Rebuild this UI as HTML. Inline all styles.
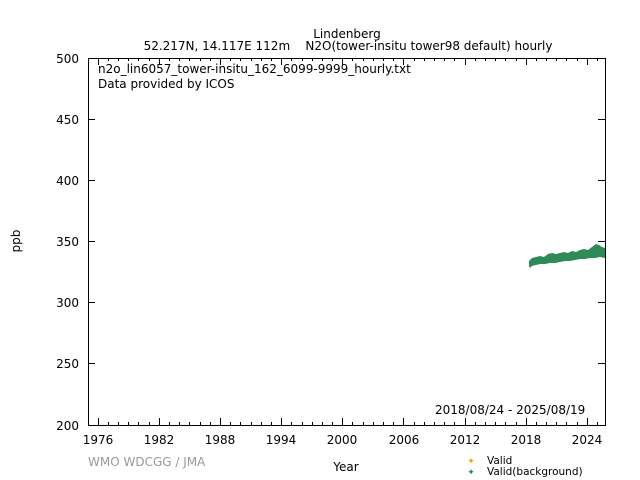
<!DOCTYPE html>
<html><head><meta charset="utf-8"><style>
html,body{margin:0;padding:0;background:#fff;}
svg{display:block;font-family:"DejaVu Sans","Liberation Sans",sans-serif;}
</style></head><body>
<svg width="640" height="480" viewBox="0 0 640 480" xmlns="http://www.w3.org/2000/svg">
<rect width="640" height="480" fill="#fff"/>
<path fill="none" stroke="#000" stroke-width="1" d="
M88 58.5h7M598 58.5h7M88 119.5h7M598 119.5h7M88 180.5h7M598 180.5h7M88 241.5h7M598 241.5h7M88 302.5h7M598 302.5h7M88 363.5h7M598 363.5h7
M98.5 425v-7M98.5 58v7M159.5 425v-7M159.5 58v7M220.5 425v-7M220.5 58v7M281.5 425v-7M281.5 58v7M342.5 425v-7M342.5 58v7M403.5 425v-7M403.5 58v7M465.5 425v-7M465.5 58v7M526.5 425v-7M526.5 58v7M587.5 425v-7M587.5 58v7
M108.5 425v-3M108.5 58v3M118.5 425v-3M118.5 58v3M128.5 425v-3M128.5 58v3M138.5 425v-3M138.5 58v3M149.5 425v-3M149.5 58v3
M169.5 425v-3M169.5 58v3M179.5 425v-3M179.5 58v3M189.5 425v-3M189.5 58v3M200.5 425v-3M200.5 58v3M210.5 425v-3M210.5 58v3
M230.5 425v-3M230.5 58v3M240.5 425v-3M240.5 58v3M251.5 425v-3M251.5 58v3M261.5 425v-3M261.5 58v3M271.5 425v-3M271.5 58v3
M291.5 425v-3M291.5 58v3M302.5 425v-3M302.5 58v3M312.5 425v-3M312.5 58v3M322.5 425v-3M322.5 58v3M332.5 425v-3M332.5 58v3
M352.5 425v-3M352.5 58v3M363.5 425v-3M363.5 58v3M373.5 425v-3M373.5 58v3M383.5 425v-3M383.5 58v3M393.5 425v-3M393.5 58v3
M414.5 425v-3M414.5 58v3M424.5 425v-3M424.5 58v3M434.5 425v-3M434.5 58v3M444.5 425v-3M444.5 58v3M454.5 425v-3M454.5 58v3
M475.5 425v-3M475.5 58v3M485.5 425v-3M485.5 58v3M495.5 425v-3M495.5 58v3M505.5 425v-3M505.5 58v3M516.5 425v-3M516.5 58v3
M536.5 425v-3M536.5 58v3M546.5 425v-3M546.5 58v3M556.5 425v-3M556.5 58v3M566.5 425v-3M566.5 58v3M577.5 425v-3M577.5 58v3M597.5 425v-3M597.5 58v3"/>
<rect x="88.5" y="58.5" width="517" height="367" fill="none" stroke="#000"/>
<polygon fill="#2e8b57" points="529,261 532,258 536,257 540,256 544,257 548,254 552,253 556,254 560,253 564,252 568,253 572,251 576,252 580,250 584,249 588,250 592,247 596,244 599,245 602,247 605,248 605,258 600,257 595,258 590,258 585,259 580,259 575,260 570,261 565,261 560,262 555,263 550,263 545,264 540,264 536,265 532,266 530,268 529,266"/>
<g font-size="12" fill="#000" text-anchor="end">
<text x="79" y="63">500</text><text x="79" y="124">450</text><text x="79" y="185">400</text><text x="79" y="246">350</text><text x="79" y="307">300</text><text x="79" y="368">250</text><text x="79" y="430">200</text>
</g>
<g font-size="12" fill="#000" text-anchor="middle">
<text x="98" y="444">1976</text><text x="159" y="444">1982</text><text x="220" y="444">1988</text><text x="281" y="444">1994</text><text x="342" y="444">2000</text><text x="404" y="444">2006</text><text x="465" y="444">2012</text><text x="526" y="444">2018</text><text x="587" y="444">2024</text>
<text x="347" y="38">Lindenberg</text>
<text x="348" y="50" style="white-space:pre" xml:space="preserve">52.217N, 14.117E 112m    N2O(tower-insitu tower98 default) hourly</text>
<text x="346" y="471">Year</text>
</g>
<text x="20" y="241" font-size="12" text-anchor="middle" transform="rotate(-90 20 241)">ppb</text>
<text x="98" y="73" font-size="12">n2o_lin6057_tower-insitu_162_6099-9999_hourly.txt</text>
<text x="98" y="88" font-size="12">Data provided by ICOS</text>
<text x="435" y="414" font-size="12">2018/08/24 - 2025/08/19</text>
<text x="88" y="466" font-size="12" fill="#999">WMO WDCGG / JMA</text>
<text x="471" y="464" font-size="9" fill="#f5a000" text-anchor="middle">✦</text>
<text x="471" y="475" font-size="9" fill="#2e8b57" text-anchor="middle">✦</text>
<text x="487" y="464" font-size="10.5">Valid</text>
<text x="487" y="475" font-size="10.5">Valid(background)</text>
</svg>
</body></html>
